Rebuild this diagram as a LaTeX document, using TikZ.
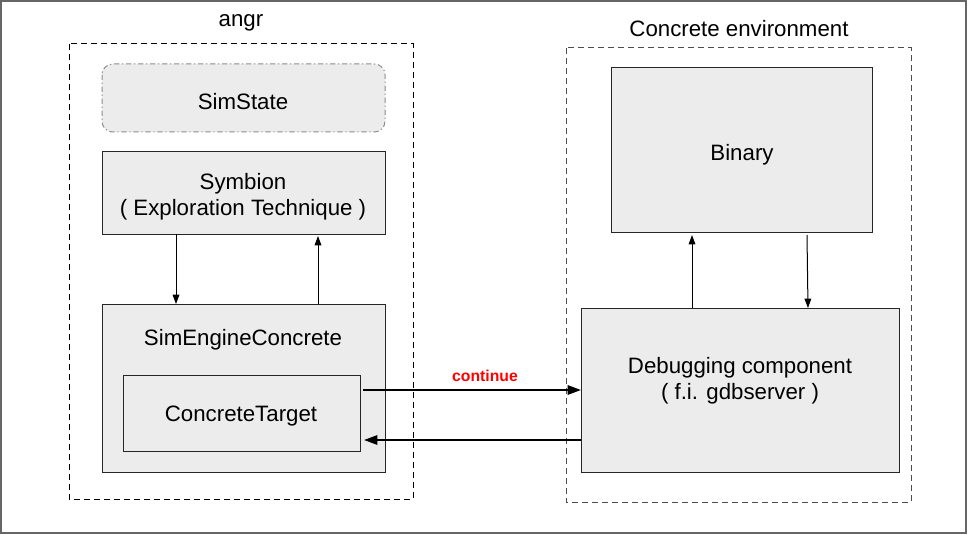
\documentclass[tikz,border=0pt]{standalone}
\usepackage{fontspec}
\setmainfont{Liberation Sans}
\usetikzlibrary{arrows.meta}
\definecolor{boxfill}{HTML}{ECECEC}
\definecolor{framegray}{HTML}{666666}
\tikzset{
  blk/.style={draw=black!85, fill=boxfill, line width=0.75pt},
  grp/.style={draw=black, dashed, line width=0.75pt, dash pattern=on 4.5pt off 3pt},
  lbl/.style={font=\fontsize{16.7}{19.5}\selectfont, align=center, yshift=-2.25pt},
  thin arrow/.style={-{Triangle[length=7pt,width=5pt]}, line width=0.75pt},
  thick arrow/.style={-{Triangle[length=10pt,width=7pt]}, line width=1.5pt},
}
\begin{document}
\begin{tikzpicture}[x=0.75pt,y=-0.75pt]
\useasboundingbox (0,0) rectangle (968,535);
\draw[framegray, line width=1.5pt] (1,1) rectangle (966,533);
% groups
\draw[grp] (69,44) rectangle (413,499);
\node[lbl] (angr) at (241,20) {angr};
\draw[grp, draw=black!70] (566,48) rectangle (911,502);
\node[lbl] (env) at (739,26) {Concrete environment};
% boxes
\draw[fill=boxfill, draw=black!45, line width=0.75pt, rounded corners=8pt, dash pattern=on 4pt off 2pt on 1pt off 2pt] (102,64) rectangle (385,132);
\node[lbl] (simstate) at (243,99) {SimState};
\draw[blk] (102,151) rectangle (385,234);
\node[lbl] (symbion) at (243,194) {Symbion\\( Exploration Technique )};
\draw[blk] (102,304) rectangle (385,472);
\node[lbl] (engine) at (243,337) {SimEngineConcrete};
\draw[blk] (123,375) rectangle (360,451);
\node[lbl] (target) at (241,413) {ConcreteTarget};
\draw[blk] (611,68) rectangle (872,232);
\node[lbl] (binary) at (742,152) {Binary};
\draw[blk] (581,308) rectangle (899,472);
\node[lbl] (debug) at (740,378) {Debugging component\\( f.i. gdbserver )};
% connectors
\coordinate (s1) at (176,234); \coordinate (e1) at (176,304);
\coordinate (e2) at (318,304); \coordinate (s2) at (318,236);
\draw[thin arrow] (s1) -- (e1);
\draw[thin arrow] (e2) -- (s2);
\coordinate (d1) at (692,308); \coordinate (b1) at (692,235);
\coordinate (b2) at (807,235); \coordinate (d2) at (808,308);
\draw[thin arrow] (d1) -- (b1);
\draw[thin arrow] (b2) -- (d2);
\coordinate (t1) at (363,390); \coordinate (g1) at (581,390);
\coordinate (g2) at (581,440); \coordinate (t2) at (364,440);
\draw[thick arrow] (t1) -- (g1);
\draw[thick arrow] (g2) -- (t2);
\node[font=\bfseries\fontsize{11.8}{13}\selectfont, text=red] (cont) at (485,376) {continue};
\end{tikzpicture}
\end{document}
